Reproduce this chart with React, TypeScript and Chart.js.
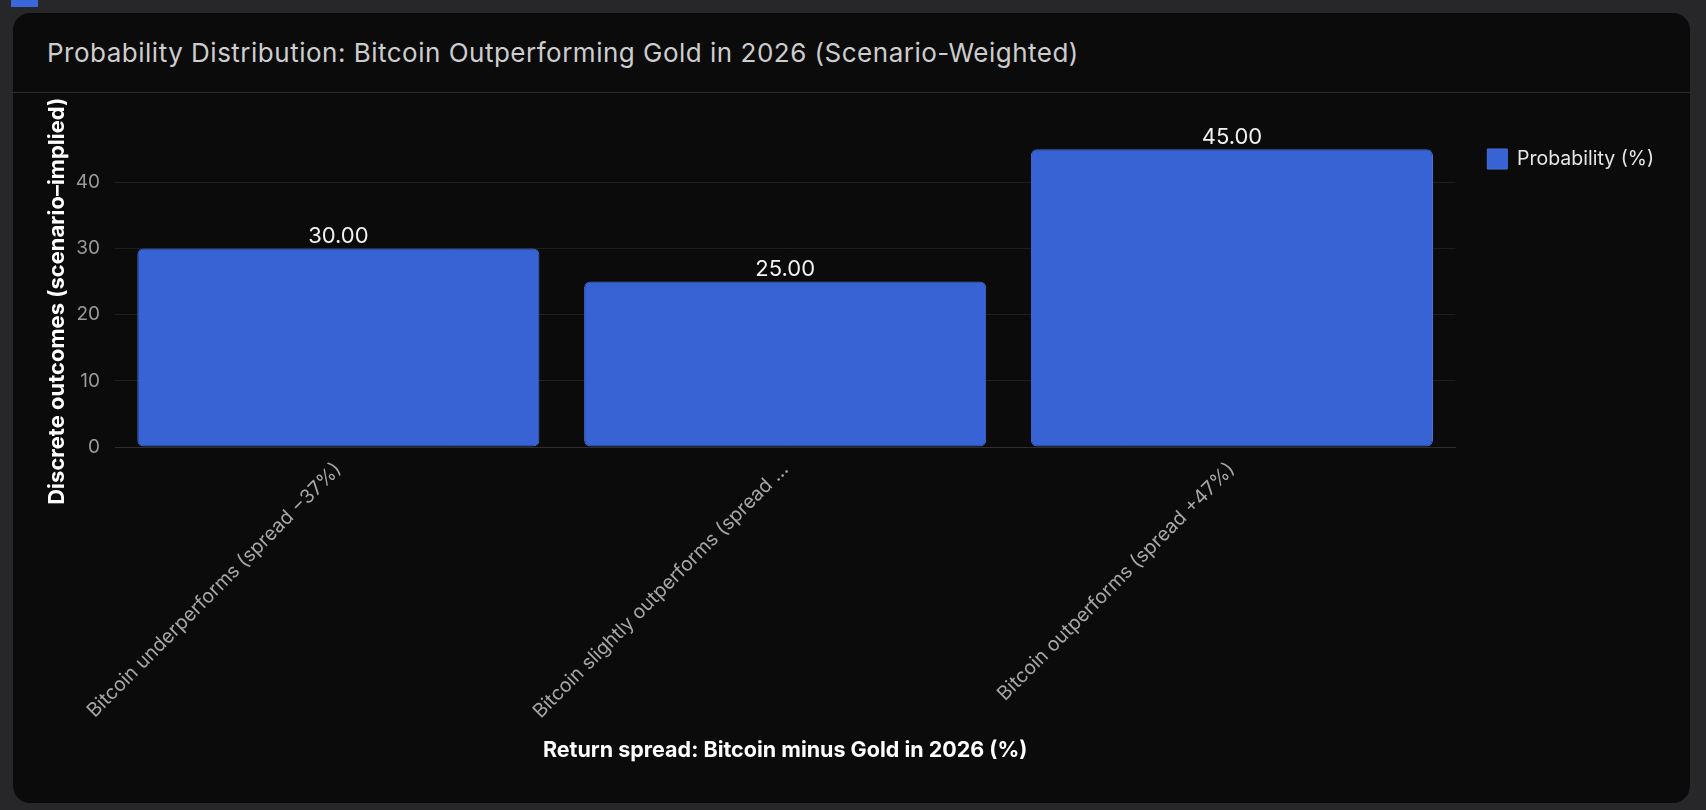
import { useEffect, useRef } from 'react';
import { Chart, ChartConfiguration, Plugin, registerables } from 'chart.js';

Chart.register(...registerables);

// Chart data
const categories = [
  'Bitcoin underperforms (spread −37%)',
  'Bitcoin slightly outperforms (spread +5%)',
  'Bitcoin outperforms (spread +47%)',
];
const probabilities = [30, 25, 45];
const seriesLabel = 'Probability (%)';
const xAxisTitle = 'Return spread: Bitcoin minus Gold in 2026 (%)';
const yAxisTitle = 'Discrete outcomes (scenario–implied)';

const FONT = 'Inter, "Noto Sans", sans-serif';

// Draws the value above every bar
const valueLabels: Plugin<'bar'> = {
  id: 'valueLabels',
  afterDatasetsDraw(chart) {
    const { ctx } = chart;
    const meta = chart.getDatasetMeta(0);
    ctx.save();
    ctx.font = `400 22px ${FONT}`;
    ctx.fillStyle = '#f2f2f2';
    ctx.textAlign = 'center';
    ctx.textBaseline = 'bottom';
    meta.data.forEach((bar, i) => {
      const value = chart.data.datasets[0].data[i] as number;
      ctx.fillText(value.toFixed(2), bar.x, bar.y - 1);
    });
    ctx.restore();
  },
};

// Y title is longer than the plot height, so it is drawn by hand (a bit below center)
const yTitle: Plugin<'bar'> = {
  id: 'yTitle',
  afterDraw(chart) {
    const { ctx, chartArea } = chart;
    ctx.save();
    ctx.translate(44, (chartArea.top + chartArea.bottom) / 2 + 18);
    ctx.rotate(-Math.PI / 2);
    ctx.font = `700 22px ${FONT}`;
    ctx.fillStyle = '#ffffff';
    ctx.textAlign = 'center';
    ctx.textBaseline = 'middle';
    ctx.fillText(yAxisTitle, 0, 0);
    ctx.restore();
  },
};

export default function App() {
  const canvasRef = useRef<HTMLCanvasElement>(null);
  const chartRef = useRef<Chart | null>(null);

  useEffect(() => {
    if (!canvasRef.current) return;
    if (chartRef.current) chartRef.current.destroy();

    const yMax = Math.max(...probabilities) * 1.1;

    const config: ChartConfiguration<'bar'> = {
      type: 'bar',
      data: {
        labels: categories,
        datasets: [
          {
            label: seriesLabel,
            data: probabilities,
            backgroundColor: '#3763d4',
            borderColor: '#4470dc',
            borderWidth: 1,
            borderRadius: 6,
            borderSkipped: false,
            barPercentage: 0.9,
            categoryPercentage: 1.0,
          },
        ],
      },
      options: {
        responsive: false,
        animation: false,
        layout: {
          padding: { top: 24, left: 27, right: 26, bottom: 36 },
        },
        plugins: {
          title: { display: false },
          tooltip: { enabled: false },
          legend: {
            display: true,
            position: 'right',
            align: 'start',
            labels: {
              boxWidth: 20,
              boxHeight: 20,
              padding: 32,
              color: '#e6e6e6',
              font: { family: FONT, size: 19.5 },
            },
          },
        },
        scales: {
          x: {
            afterFit: (scale) => {
              scale.height = 320;
            },
            grid: { display: false },
            border: { display: true, color: '#2e2e2e' },
            ticks: {
              color: '#a6a6a6',
              font: { family: FONT, size: 19.5 },
              minRotation: 45,
              maxRotation: 45,
              autoSkip: false,
              callback: (_value, index) => {
                const label = categories[index];
                return label.length > 38 ? label.slice(0, 37) + '…' : label;
              },
            },
            title: {
              display: true,
              text: xAxisTitle,
              color: '#ffffff',
              font: { family: FONT, size: 21.5, weight: 'bold' },
            },
          },
          y: {
            afterFit: (scale) => {
              scale.width = 75;
            },
            beginAtZero: true,
            max: yMax,
            grid: { color: '#1f1f1f', drawTicks: false },
            border: { display: false },
            ticks: {
              stepSize: 10,
              includeBounds: false,
              padding: 15,
              color: '#9a9a9a',
              font: { family: FONT, size: 19 },
            },
            title: { display: false },
          },
        },
      },
      plugins: [valueLabels, yTitle],
    };

    chartRef.current = new Chart(canvasRef.current, config);

    return () => {
      if (chartRef.current) {
        chartRef.current.destroy();
        chartRef.current = null;
      }
    };
  }, []);

  return (
    <div style={{ position: 'fixed', inset: 0, background: '#27272a', overflow: 'hidden' }}>
      <div style={{ position: 'absolute', left: 11, top: 0, width: 27, height: 7, background: '#3b66d8' }} />
      <div
        style={{
          position: 'absolute',
          left: 13,
          top: 13,
          width: 1677,
          height: 790,
          background: '#0b0b0b',
          borderRadius: 17,
          overflow: 'hidden',
          fontFamily: FONT,
        }}
      >
        <div
          style={{
            height: 80,
            boxSizing: 'border-box',
            borderBottom: '1px solid #2c2c2c',
            paddingLeft: 34,
            display: 'flex',
            alignItems: 'center',
            color: '#cdcdcd',
            fontSize: 26,
            letterSpacing: 0.5,
          }}
        >
          Probability Distribution: Bitcoin Outperforming Gold in 2026 (Scenario-Weighted)
        </div>
        <canvas ref={canvasRef} width={1677} height={710} style={{ display: 'block' }} />
      </div>
    </div>
  );
}
